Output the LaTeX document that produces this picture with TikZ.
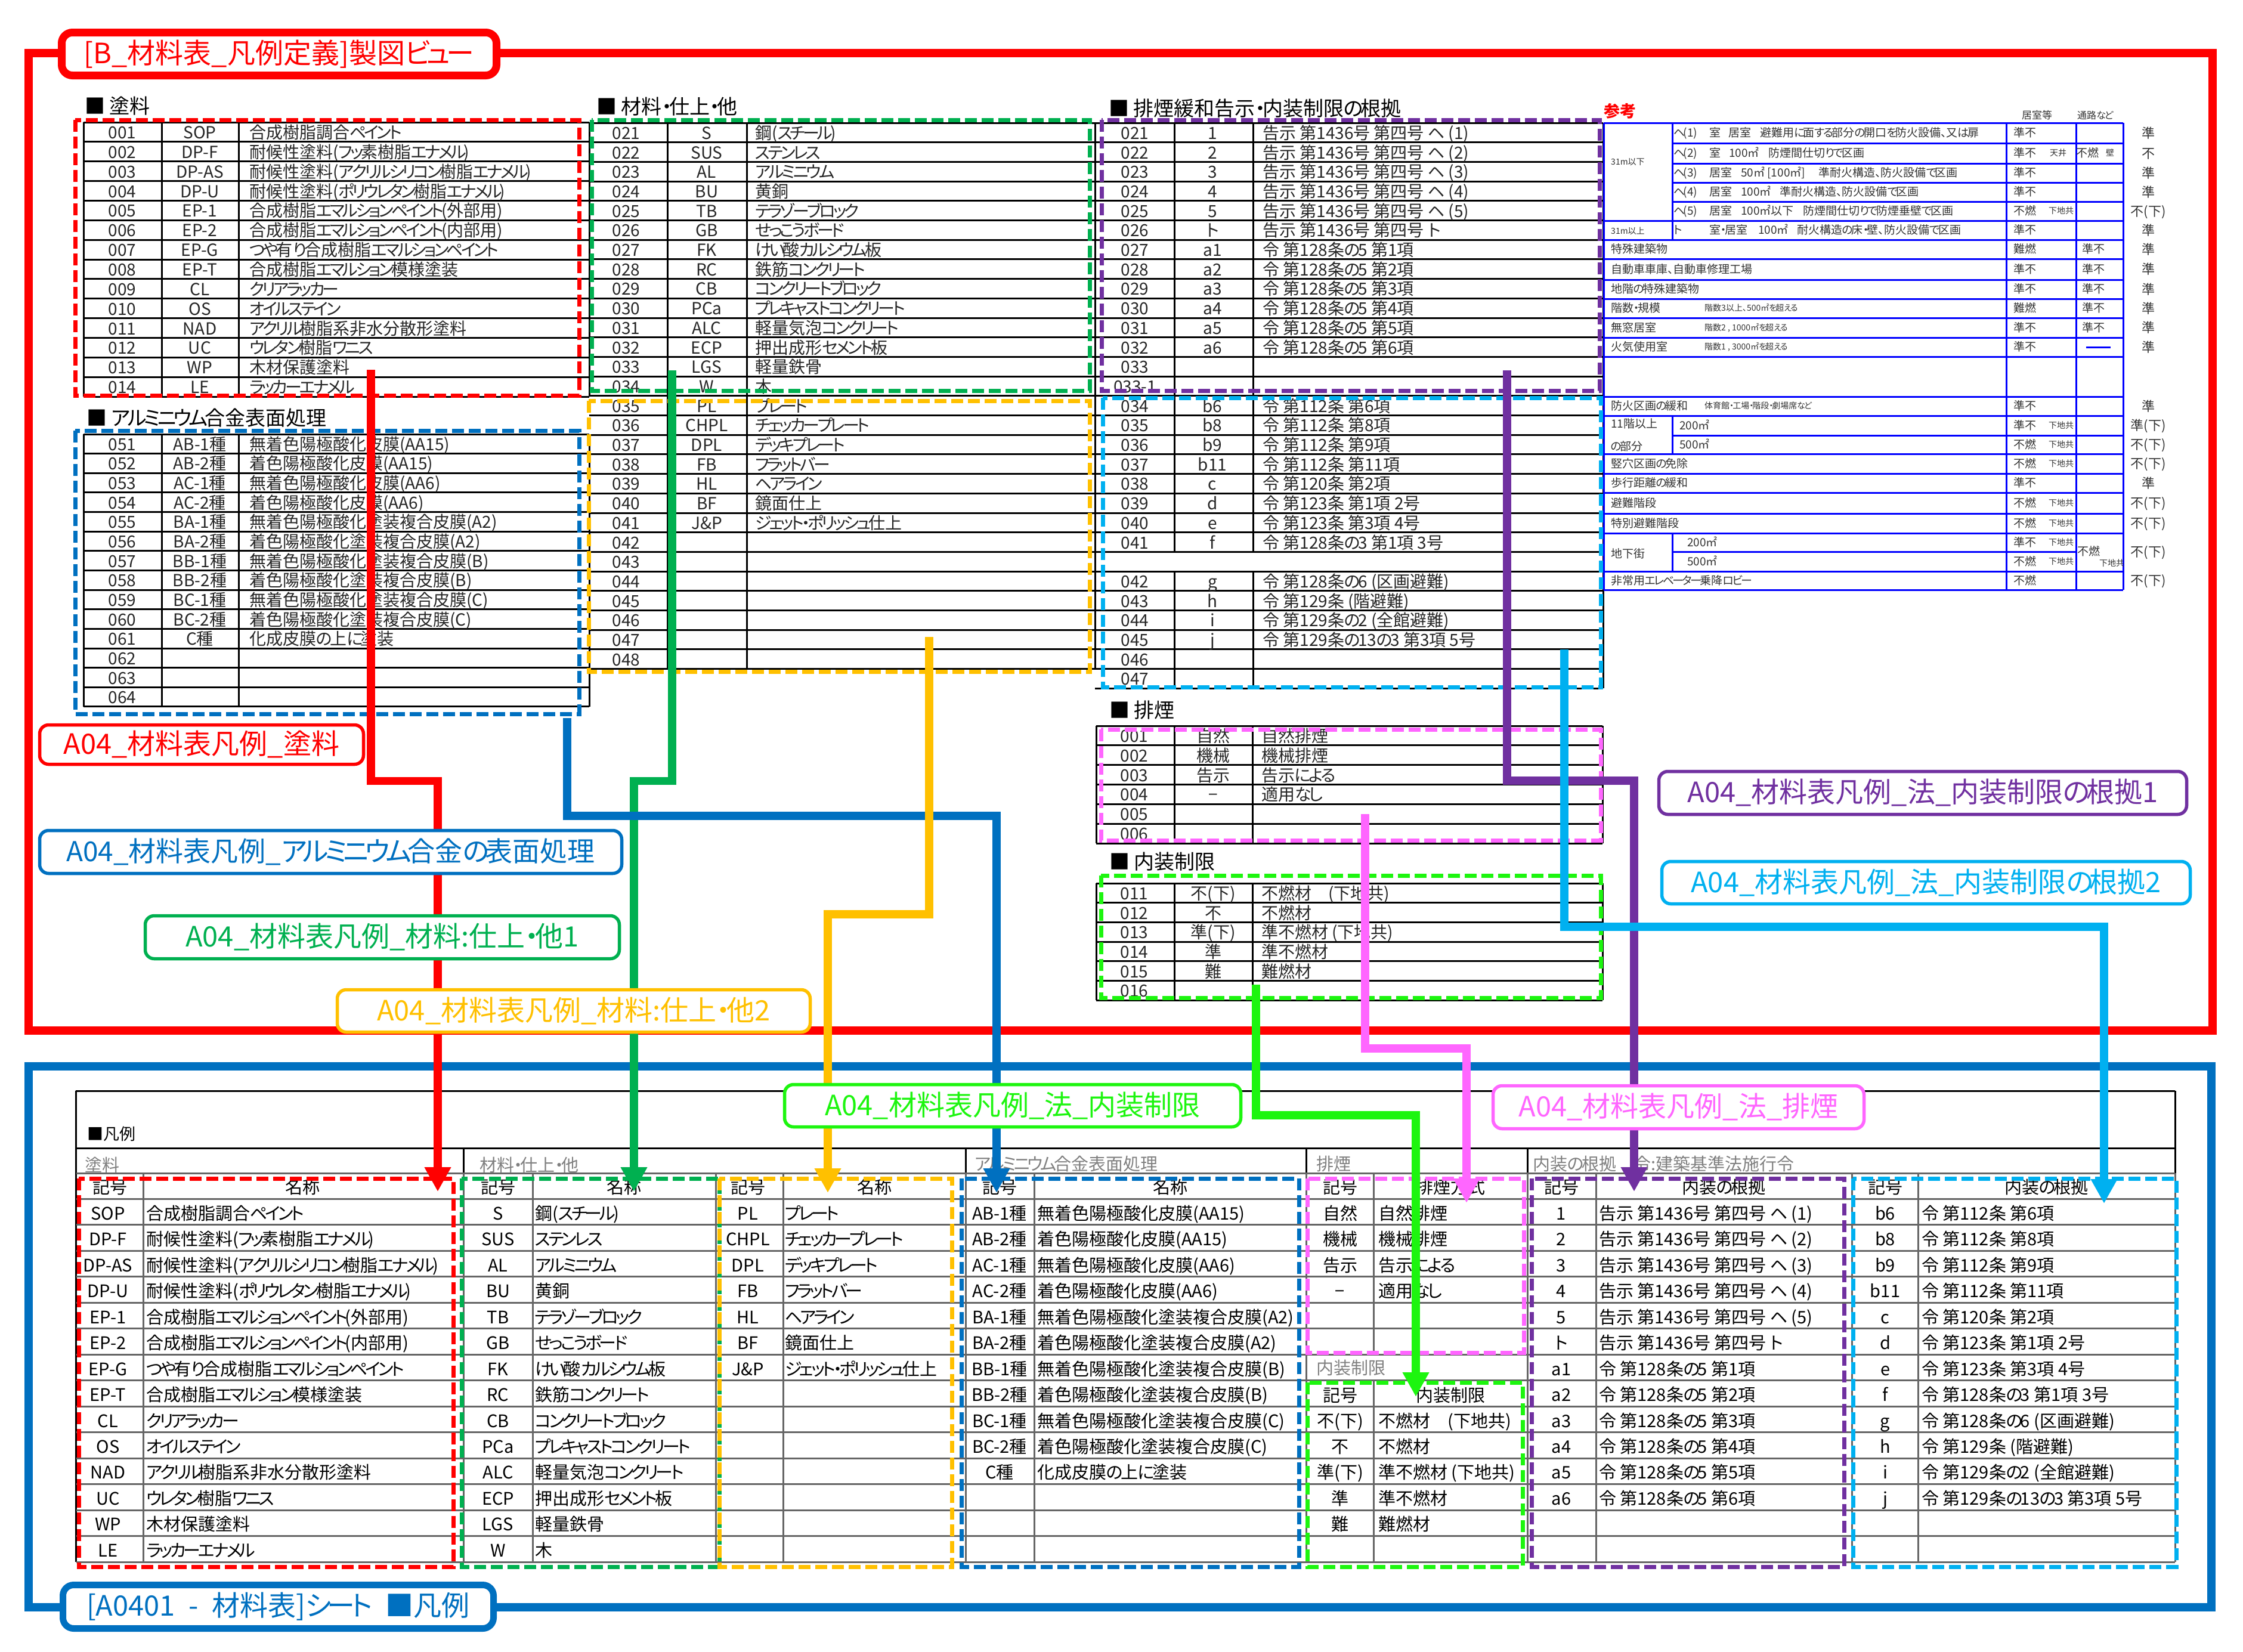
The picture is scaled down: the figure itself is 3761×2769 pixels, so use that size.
\documentclass[tikz,border=0pt]{standalone}
\usepackage{fontspec}
\usepackage{tikz}
\usetikzlibrary{arrows.meta}
\newfontfamily\jp[RawFeature={+palt}]{Noto Sans CJK JP}
\newfontfamily\jpw{Noto Sans CJK JP}
\XeTeXinterchartokenstate=1
\newXeTeXintercharclass\KanaCls
\newcount\KanaPos
\KanaPos="3041 \loop \XeTeXcharclass\KanaPos=\KanaCls \advance\KanaPos 1 \ifnum\KanaPos<"3097 \repeat
\KanaPos="30A1 \loop \XeTeXcharclass\KanaPos=\KanaCls \advance\KanaPos 1 \ifnum\KanaPos<"30FD \repeat
\XeTeXinterchartoks\KanaCls\KanaCls={\kern-.14em}
\XeTeXinterchartoks\KanaCls 1={\kern-.14em}
\XeTeXinterchartoks\KanaCls 0={\kern-.14em}
\newcommand{\ThreeD}[1]{\ifnum#1<100 0\fi\ifnum#1<10 0\fi#1}
\newcommand{\Fs}[1]{\jp\fontsize{#1}{#1}\selectfont}
\newcommand{\Codes}[6]{\foreach \i in {1,...,#6}{\pgfmathtruncatemacro{\c}{#5+\i-1}\node[upc] (#1c\i) at (#2,{#3+#4*(\i-.5)}) {\ThreeD{\c}};}}
\newcommand{\RowsOf}[8]{\foreach \s/\t [count=\i from #6] in #8 {\node[#7c] (#1s\i) at (#2,{#4+#5*(\i-.5)}) {\s};\node[#7w] (#1t\i) at (#3,{#4+#5*(\i-.5)}) {\t};}}
\newcommand{\PaintList}{SOP/合成樹脂調合ペイント,DP-F/耐候性塗料(フッ素樹脂エナメル),DP-AS/耐候性塗料(アクリルシリコン樹脂エナメル),DP-U/耐候性塗料(ポリウレタン樹脂エナメル),EP-1/合成樹脂エマルションペイント(外部用),EP-2/合成樹脂エマルションペイント(内部用),EP-G/つや有り合成樹脂エマルションペイント,EP-T/合成樹脂エマルション模様塗装,CL/クリアラッカー,OS/オイルステイン,NAD/アクリル樹脂系非水分散形塗料,UC/ウレタン樹脂ワニス,WP/木材保護塗料,LE/ラッカーエナメル}
\newcommand{\AluList}{AB-1種/無着色陽極酸化皮膜(AA15),AB-2種/着色陽極酸化皮膜(AA15),AC-1種/無着色陽極酸化皮膜(AA6),AC-2種/着色陽極酸化皮膜(AA6),BA-1種/無着色陽極酸化塗装複合皮膜(A2),BA-2種/着色陽極酸化塗装複合皮膜(A2),BB-1種/無着色陽極酸化塗装複合皮膜(B),BB-2種/着色陽極酸化塗装複合皮膜(B),BC-1種/無着色陽極酸化塗装複合皮膜(C),BC-2種/着色陽極酸化塗装複合皮膜(C),C種/化成皮膜の上に塗装}
\newcommand{\MatOne}{S/鋼(スチール),SUS/ステンレス,AL/アルミニウム,BU/黄銅,TB/テラゾーブロック,GB/せっこうボード,FK/けい酸カルシウム板,RC/鉄筋コンクリート,CB/コンクリートブロック,PCa/プレキャストコンクリート,ALC/軽量気泡コンクリート,ECP/押出成形セメント板,LGS/軽量鉄骨,W/木}
\newcommand{\MatTwo}{PL/プレート,CHPL/チェッカープレート,DPL/デッキプレート,FB/フラットバー,HL/ヘアライン,BF/鏡面仕上,J\&P/ジェット・ポリッシュ仕上}
\newcommand{\LawA}{1/告示 第1436号 第四号 ヘ (1),2/告示 第1436号 第四号 ヘ (2),3/告示 第1436号 第四号 ヘ (3),4/告示 第1436号 第四号 ヘ (4),5/告示 第1436号 第四号 ヘ (5),ト/告示 第1436号 第四号 ト,a1/令 第128条の5 第1項,a2/令 第128条の5 第2項,a3/令 第128条の5 第3項,a4/令 第128条の5 第4項,a5/令 第128条の5 第5項,a6/令 第128条の5 第6項}
\newcommand{\LawB}{b6/令 第112条 第6項,b8/令 第112条 第8項,b9/令 第112条 第9項,b11/令 第112条 第11項,c/令 第120条 第2項,d/令 第123条 第1項 2号,e/令 第123条 第3項 4号,f/令 第128条の3 第1項 3号}
\newcommand{\LawC}{g/令 第128条の6 (区画避難),h/令 第129条 (階避難),i/令 第129条の2 (全館避難),j/令 第129条の13の3 第3項 5号}
\newcommand{\SmokeList}{自然/自然排煙,機械/機械排煙,告示/告示による,−/適用なし}
\newcommand{\LimitList}{不(下)/不燃材　(下地共),不/不燃材,準(下)/準不燃材 (下地共),準/準不燃材,難/難燃材}
\definecolor{cRed}{HTML}{FF0000}
\definecolor{cBlue}{HTML}{0070C0}
\definecolor{cGreen}{HTML}{00B050}
\definecolor{cYellow}{HTML}{FFC000}
\definecolor{cLime}{HTML}{1DF50F}
\definecolor{cPink}{HTML}{FF66FF}
\definecolor{cPurple}{HTML}{7030A0}
\definecolor{cSky}{HTML}{00B0F0}
\definecolor{cRule}{HTML}{0000FF}
\begin{document}
\begin{tikzpicture}[x=1pt,y=-1pt,
	frame/.style={draw=#1,line width=14pt},
	dashbox/.style={draw=#1,line width=7pt,dash pattern=on 20pt off 8pt},
	conn/.style={draw=#1,line width=13.5pt,-{Triangle[length=41pt,width=42pt]}},
	lbl/.style={draw=#1,text=#1,fill=white,line width=5.5pt,rounded corners=15pt,inner sep=0pt,font=\Fs{47}},
	ttl/.style={draw=#1,text=#1,fill=white,line width=13pt,rounded corners=18pt,inner sep=0pt,font=\Fs{47}},
	upline/.style={draw=black,line width=3pt},
	loline/.style={draw=black!60,line width=3pt},
	lohead/.style={draw=black,line width=3pt},
	rule/.style={draw=cRule,line width=3pt},
	head/.style={anchor=west,inner sep=0pt,font=\Fs{34}},
	grey/.style={anchor=west,inner sep=0pt,text=black!50,font=\Fs{29}},
	upc/.style={anchor=center,inner sep=0pt,text=black!85,text height=25pt,text depth=3pt,font=\Fs{28}},
	upw/.style={anchor=west,inner sep=0pt,text=black!85,text height=25pt,text depth=3pt,font=\Fs{28}},
	loc/.style={anchor=center,inner sep=0pt,text height=26pt,text depth=0pt,font=\Fs{29}},
	low/.style={anchor=west,inner sep=0pt,text height=26pt,text depth=0pt,font=\Fs{29}},
	rf/.style={anchor=west,inner sep=0pt,text=black!80,text height=15pt,text depth=2pt,font=\Fs{19}},
	rn/.style={anchor=west,inner sep=0pt,text=black!80,text height=11pt,text depth=2pt,font=\Fs{14}},
	rz/.style={anchor=center,inner sep=0pt,text=black!80,text height=18pt,text depth=2pt,font=\Fs{22}}]
	\useasboundingbox (0,0) rectangle (3761,2769);

	\draw[frame=cRed] (48,89) rectangle (3710,1728);
	\draw[frame=cBlue] (48,1788) rectangle (3708,2695);

	\node[head] (HPaint) at (142,178) {■ 塗料};
	\node[head] (HAlu) at (145,701) {■ アルミニウム合金表面処理};
	\node[head] (HMat) at (1000,179) {■ 材料・仕上・他};
	\node[head] (HLaw) at (1859,182) {■ 排煙緩和告示・内装制限の根拠};
	\node[head] (HSmoke) at (1860,1191) {■ 排煙};
	\node[head] (HLimit) at (1860,1445) {■ 内装制限};

	\foreach \x in {140,271,400,988} \draw[upline] (\x,205) -- (\x,665);
	\foreach \k in {0,...,14} \draw[upline] (140,{205+32.86*\k}) -- (988,{205+32.86*\k});
	\Codes{pa}{205}{205}{32.86}{1}{14}
	\RowsOf{pa}{335}{418}{205}{32.86}{1}{up}{\PaintList}

	\foreach \x in {140,271,400,988} \draw[upline] (\x,728) -- (\x,1185);
	\foreach \k in {0,...,14} \draw[upline] (140,{728+32.64*\k}) -- (988,{728+32.64*\k});
	\Codes{al}{205}{728}{32.64}{51}{14}
	\RowsOf{al}{335}{418}{728}{32.64}{1}{up}{\AluList}

	\foreach \x in {1119,1252,1836} \draw[upline] (\x,206) -- (\x,1122);
	\foreach \k in {0,...,28} \draw[upline] (988,{206+32.7*\k}) -- (1836,{206+32.7*\k});
	\Codes{ma}{1050}{206}{32.7}{21}{28}
	\RowsOf{ma}{1185}{1266}{206}{32.7}{1}{up}{\MatOne}
	\RowsOf{mb}{1185}{1266}{206}{32.7}{15}{up}{\MatTwo}

	\foreach \x in {1969,2101} {
		\draw[upline] (\x,206) -- (\x,926);
		\draw[upline] (\x,959) -- (\x,1154);
	}
	\draw[upline] (2688,206) -- (2688,1154);
	\foreach \k in {0,...,29} \draw[upline] (1836,{206+32.7*\k}) -- (2688,{206+32.7*\k});
	\Codes{la}{1903}{206}{32.7}{21}{13}
	\node[upc] (lax) at (1903,{206+32.7*13.5}) {033-1};
	\Codes{lb}{1903}{663.8}{32.7}{34}{8}
	\Codes{lc}{1903}{958.1}{32.7}{42}{6}
	\RowsOf{la}{2033}{2117}{206}{32.7}{1}{up}{\LawA}
	\RowsOf{lb}{2033}{2117}{663.8}{32.7}{1}{up}{\LawB}
	\RowsOf{lc}{2033}{2117}{958.1}{32.7}{1}{up}{\LawC}

	\foreach \x in {1838,1969,2100,2687} \draw[upline] (\x,1217) -- (\x,1414);
	\foreach \k in {0,...,6} \draw[upline] (1838,{1217+32.83*\k}) -- (2687,{1217+32.83*\k});
	\Codes{sm}{1902}{1217}{32.83}{1}{6}
	\RowsOf{sm}{2034}{2115}{1217}{32.83}{1}{up}{\SmokeList}

	\foreach \x in {1838,1969,2100,2687} \draw[upline] (\x,1481) -- (\x,1677);
	\foreach \k in {0,...,6} \draw[upline] (1838,{1481+32.67*\k}) -- (2687,{1481+32.67*\k});
	\Codes{li}{1902}{1481}{32.67}{11}{6}
	\RowsOf{li}{2034}{2115}{1481}{32.67}{1}{up}{\LimitList}

	\node[text=cRed,anchor=west,inner sep=0pt,font=\Fs{27}\bfseries] (HRef) at (2689,186) {参考};
	\node[rf,font=\Fs{17}] (HRoom) at (3390,193) {居室等};
	\node[rf,font=\Fs{16}] (HPass) at (3483,193) {通路など};
	\foreach \x in {2689,3364,3481,3560} \draw[rule] (\x,206) -- (\x,989);
	\foreach \y in {206,370,402,434,469,501,533,566,598,665,697,761,794,826,861,894,958,989} \draw[rule] (2689,\y) -- (3560,\y);
	\foreach \y in {240,274,306,338,730} \draw[rule] (2804,\y) -- (3560,\y);
	\draw[rule] (2804,925) -- (3481,925);
	\draw[rule] (2804,206) -- (2804,402);
	\draw[rule] (2804,697) -- (2804,761);
	\draw[rule] (2804,894) -- (2804,958);
	\draw[rule] (3498,582) -- (3539,582);
	\foreach \x/\y/\t [count=\i] in {2806/223/{ヘ(1)},2866/223/室,2898/223/居室,2951/223/{避難用に面する部分の開口を防火設備、又は扉},
		2806/257/{ヘ(2)},2866/257/室,2899/257/100㎡,2965/257/防煙間仕切りで区画,
		2806/290/{ヘ(3)},2866/290/居室,2919/290/{50㎡ [100㎡]},3049/290/{準耐火構造、防火設備で区画},
		2806/322/{ヘ(4)},2866/322/居室,2919/322/100㎡,2984/322/{準耐火構造、防火設備で区画},
		2806/354/{ヘ(5)},2866/354/居室,2919/354/100㎡以下,3023/354/防煙間仕切りで防煙垂壁で区画,
		2806/386/ト,2866/386/室・居室,2948/386/100㎡,3013/386/{耐火構造の床・壁、防火設備で区画},
		2701/418/特殊建築物,2701/451.5/{自動車車庫、自動車修理工場},2701/485/地階の特殊建築物,
		2701/517/階数・規模,2701/549.5/無窓居室,2701/582/火気使用室,2701/681/防火区画の緩和,
		2701/711/11階以上,2701/749/の部分,2816/713.5/200㎡,2816/745.5/500㎡,
		2701/777.5/竪穴区画の免除,2701/810/歩行距離の緩和,2701/843.5/避難階段,2701/877.5/特別避難階段,
		2701/929/地下街,2829/909.5/200㎡,2829/941.5/500㎡,2701/973.5/非常用エレベーター乗降ロビー,
		3376/223/準不,3376/257/準不,3376/290/準不,3376/322/準不,3376/354/不燃,3376/386/準不,3376/418/難燃,
		3376/451.5/準不,3376/485/準不,3376/517/難燃,3376/549.5/準不,3376/582/準不,3376/681/準不,3376/713.5/準不,
		3376/745.5/不燃,3376/777.5/不燃,3376/810/準不,3376/843.5/不燃,3376/877.5/不燃,3376/909.5/準不,3376/941.5/不燃,3376/973.5/不燃,
		3481/257/不燃,3491/418/準不,3491/451.5/準不,3491/485/準不,3491/517/準不,3491/549.5/準不,3483/925/不燃}
		\node[rf] (rf\i) at (\x,\y) {\t};
	\foreach \x/\y/\t [count=\i] in {2701/272/31m以下,2701/388/31m以上,2858/517/{階数3以上、500㎡を超える},2858/549.5/{階数2 , 1000㎡を超える},2858/582/{階数1 , 3000㎡を超える},2858/681/体育館・工場・階段・劇場席など,
		3437/257/天井,3531/257/壁,3435/354/下地共,3435/713.5/下地共,3435/745.5/下地共,3435/777.5/下地共,3435/843.5/下地共,3435/877.5/下地共,3435/909.5/下地共,3435/941.5/下地共,3520/945/下地共}
		\node[rn] (rn\i) at (\x,\y) {\t};
	\foreach \y/\t [count=\i] in {223/準,257/不,290/準,322/準,354/不(下),386/準,418/準,451.5/準,485/準,517/準,549.5/準,582/準,681/準,713.5/準(下),745.5/不(下),777.5/不(下),810/準,843.5/不(下),877.5/不(下),925/不(下),973.5/不(下)}
		\node[rz] (rz\i) at (3602,\y) {\t};

	\draw[lohead] (127,1829) -- (3647,1829);
	\draw[lohead] (127,1925) -- (3647,1925);
	\draw[lohead] (127,1829) -- (127,2619);
	\draw[lohead] (3647,1829) -- (3647,1967);
	\foreach \x in {777,1619,2190,2561} \draw[lohead] (\x,1925) -- (\x,1967);
	\foreach \k in {0,...,15} \draw[loline] (128,{1967+43.47*\k}) -- (3647,{1967+43.47*\k});
	\foreach \x in {240,777,893,1200,1313,1619,1734,2190,2561,2676,3105,3216,3647} \draw[loline] (\x,1967) -- (\x,2619);
	\draw[loline] (2303,1967) -- (2303,2272);
	\draw[loline] (2303,2316) -- (2303,2619);
	\node[grey,text=black,font=\Fs{27}] (HLegend) at (146,1901) {■凡例};
	\node[grey] (GPaint) at (142,1953) {塗料};
	\node[grey] (GMat) at (804,1953) {材料・仕上・他};
	\node[grey] (GAlu) at (1634,1951) {アルミニウム合金表面処理};
	\node[grey] (GSmoke) at (2207,1951) {排煙};
	\node[grey] (GLaw) at (2570,1951) {内装の根拠　令:建築基準法施行令};
	\node[grey] (GLimit) at (2207,2294) {内装制限};
	\foreach \p/\a/\b/\t in {ha/184/507/名称,hb/835/1046/名称,hc/1254/1466/名称,hd/1676/1962/名称,he/2247/2432/排煙方式,hf/2618/2890/内装の根拠,hg/3161/3431/内装の根拠} {
		\node[loc] (\p s) at (\a,1988.7) {記号};
		\node[loc] (\p t) at (\b,1988.7) {\t};
	}
	\node[loc] (hhs) at (2247,2337.5) {記号};
	\node[loc] (hht) at (2432,2337.5) {内装制限};
	\RowsOf{ba}{181}{245}{2010.5}{43.47}{1}{lo}{\PaintList}
	\RowsOf{bb}{835}{897}{2010.5}{43.47}{1}{lo}{\MatOne}
	\RowsOf{bc}{1254}{1316}{2010.5}{43.47}{1}{lo}{\MatTwo}
	\RowsOf{bd}{1676}{1739}{2010.5}{43.47}{1}{lo}{\AluList}
	\RowsOf{be}{2247}{2311}{2010.5}{43.47}{1}{lo}{\SmokeList}
	\RowsOf{bf}{2247}{2311}{2010.5}{43.47}{9}{lo}{\LimitList}
	\RowsOf{bg}{2618}{2681}{2010.5}{43.47}{1}{lo}{\LawA}
	\RowsOf{bh}{3161}{3222}{2010.5}{43.47}{1}{lo}{\LawB}
	\RowsOf{bi}{3161}{3222}{2010.5}{43.47}{9}{lo}{\LawC}

	\draw[dashbox=cRed] (126,201) rectangle (971,663);
	\draw[dashbox=cBlue] (126,722) rectangle (971,1197);
	\draw[dashbox=cGreen] (992,201) rectangle (1827,655);
	\draw[dashbox=cYellow] (987,672) rectangle (1827,1126);
	\draw[dashbox=cPurple] (1847,201) rectangle (2682,655);
	\draw[dashbox=cSky] (1849,667) rectangle (2684,1152);
	\draw[dashbox=cPink] (1846,1223) rectangle (2684,1409);
	\draw[dashbox=cLime] (1846,1468) rectangle (2684,1673);
	\draw[dashbox=cRed] (132,1976) rectangle (760,2627);
	\draw[dashbox=cGreen] (774,1976) rectangle (1206,2627);
	\draw[dashbox=cYellow] (1206,1976) rectangle (1596,2627);
	\draw[dashbox=cBlue] (1612,1976) rectangle (2178,2627);
	\draw[dashbox=cPink] (2192,1976) rectangle (2555,2268);
	\draw[dashbox=cLime] (2192,2318) rectangle (2553,2627);
	\draw[dashbox=cPurple] (2568,1976) rectangle (3092,2627);
	\draw[dashbox=cSky] (3107,1976) rectangle (3649,2627);

	\coordinate (PaintS) at (622,620);
	\coordinate (PaintE) at (734,1998);
	\coordinate (AluS) at (951,1204);
	\coordinate (AluE) at (1671,2000);
	\coordinate (MatAS) at (1127,621);
	\coordinate (MatAE) at (1063,1998);
	\coordinate (MatBS) at (1558,1068);
	\coordinate (MatBE) at (1388,2000);
	\coordinate (LimS) at (2106,1651);
	\coordinate (LimE) at (2374,2342);
	\coordinate (SmokeS) at (2289,1365);
	\coordinate (SmokeE) at (2459,2017);
	\coordinate (LawAS) at (2527,621);
	\coordinate (LawAE) at (2740,1998);
	\coordinate (LawBS) at (2623,1089);
	\coordinate (LawBE) at (3528,2018);

	\draw[conn=cRed] (PaintS) -- ++(0,689.5) -| (PaintE);
	\draw[conn=cGreen] (MatAS) -- ++(0,688.5) -| (MatAE);
	\draw[conn=cBlue] (AluS) -- ++(0,164) -| (AluE);
	\draw[conn=cYellow] (MatBS) -- ++(0,465) -| (MatBE);
	\draw[conn=cLime] (LimS) -- ++(0,219) -| (LimE);
	\draw[conn=cPink] (SmokeS) -- ++(0,393) -| (SmokeE);
	\draw[conn=cPurple] (LawAS) -- ++(0,688) -| (LawAE);
	\draw[conn=cSky] (LawBS) -- ++(0,465) -| (LawBE);

	\node[ttl=cRed,minimum width=729pt,minimum height=72pt] (TTop) at (468,90.5) {[B\_材料表\_凡例定義]製図ビュー};
	\node[ttl=cBlue,line width=11pt,minimum width=722pt,minimum height=73pt] (TLow) at (466.5,2694) {[A0401\hspace{12pt} - \hspace{12pt}材料表]シート\hspace{22pt}■凡例};
	\node[lbl=cRed,minimum width=543pt,minimum height=66pt] (LPaint) at (338,1248.5) {A04\_材料表凡例\_塗料};
	\node[lbl=cBlue,font=\Fs{46},minimum width=976pt,minimum height=72pt] (LAlu) at (554.5,1428.5) {A04\_材料表凡例\_アルミニウム合金の表面処理};
	\node[lbl=cGreen,minimum width=795pt,minimum height=72pt] (LMatA) at (641,1571.5) {A04\_材料表凡例\_材料{\jpw :}仕上・他1};
	\node[lbl=cYellow,minimum width=793pt,minimum height=71pt] (LMatB) at (962,1695) {A04\_材料表凡例\_材料{\jpw :}仕上・他2};
	\node[lbl=cLime,minimum width=765pt,minimum height=71pt] (LLim) at (1698,1854) {A04\_材料表凡例\_法\_内装制限};
	\node[lbl=cPink,minimum width=622pt,minimum height=72pt] (LSmoke) at (2814.5,1856.5) {A04\_材料表凡例\_法\_排煙};
	\node[lbl=cPurple,minimum width=885pt,minimum height=72pt] (LLawA) at (3224,1329.5) {A04\_材料表凡例\_法\_内装制限の根拠1};
	\node[lbl=cSky,minimum width=886pt,minimum height=71pt] (LLawB) at (3229.5,1480) {A04\_材料表凡例\_法\_内装制限の根拠2};
\end{tikzpicture}
\end{document}
